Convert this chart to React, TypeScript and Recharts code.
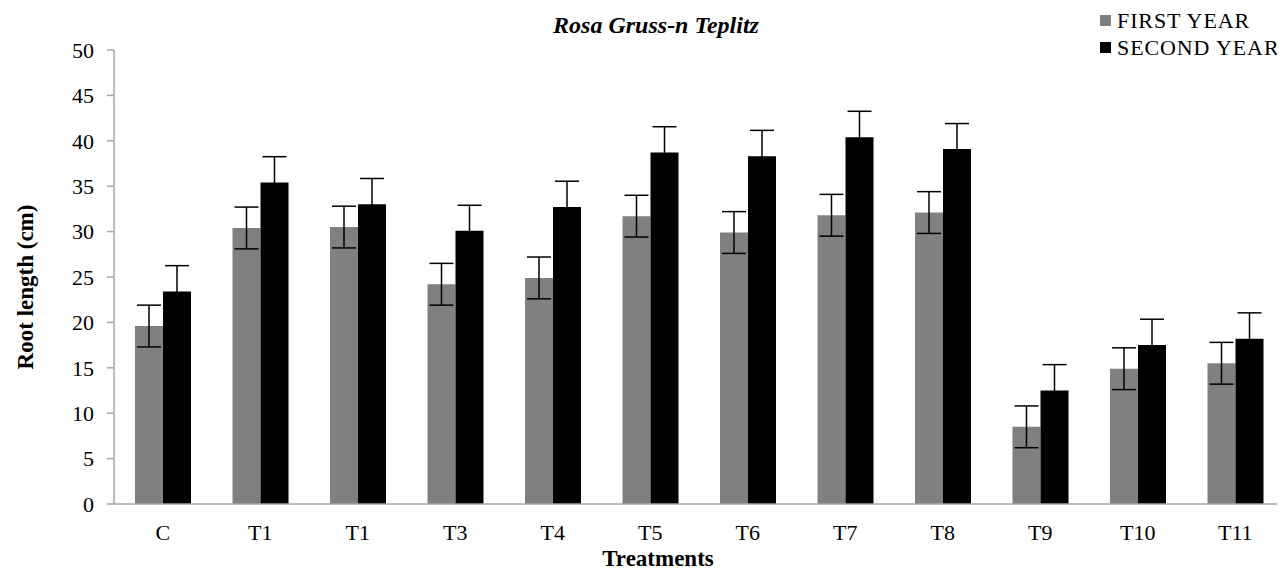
import React from "react";
import { BarChart, Bar, XAxis, YAxis, ErrorBar, Legend, Label } from "recharts";

const treatments = ["C", "T1", "T1", "T3", "T4", "T5", "T6", "T7", "T8", "T9", "T10", "T11"];
const firstYear = [19.6, 30.4, 30.5, 24.2, 24.9, 31.7, 29.9, 31.8, 32.1, 8.5, 14.9, 15.5];
const secondYear = [23.4, 35.4, 33.0, 30.1, 32.7, 38.7, 38.3, 40.4, 39.1, 12.5, 17.5, 18.2];
const firstYearErr = [2.3, 2.3, 2.3, 2.3, 2.3, 2.3, 2.3, 2.3, 2.3, 2.3, 2.3, 2.3];
const secondYearErr = [2.85, 2.85, 2.85, 2.8, 2.85, 2.85, 2.85, 2.85, 2.8, 2.85, 2.85, 2.85];
const yTicks = [0, 5, 10, 15, 20, 25, 30, 35, 40, 45, 50];

const data = treatments.map((t, i) => ({
  name: t,
  first: firstYear[i],
  firstErr: firstYearErr[i],
  second: secondYear[i],
  secondErr: secondYearErr[i],
}));

const font = '"Liberation Serif", "Times New Roman", serif';
const axisColor = "#a6a6a6";

const renderLegend = (props: any) => {
  const { payload = [] } = props;
  return (
    <div style={{ fontFamily: font, fontSize: 22, lineHeight: "27px", letterSpacing: "0.9px", color: "#000" }}>
      {payload.map((item: any) => (
        <div key={item.value} style={{ display: "flex", alignItems: "center", whiteSpace: "nowrap" }}>
          <span
            style={{
              display: "inline-block",
              width: 11,
              height: 11,
              background: item.color,
              marginRight: 6,
            }}
          />
          {item.value}
        </div>
      ))}
    </div>
  );
};

const YTitle = (props: any) => {
  const vb = props.viewBox;
  const cx = vb.x + 17;
  const cy = vb.y + vb.height / 2 + 10;
  return (
    <text
      x={cx}
      y={cy}
      transform={`rotate(-90 ${cx} ${cy})`}
      textAnchor="middle"
      dominantBaseline="central"
      fontFamily={font}
      fontSize={23}
      fontWeight="bold"
      fill="#000"
    >
      Root length (cm)
    </text>
  );
};

const XTitle = () => (
  <text x={650} y={558} textAnchor="middle" fontFamily={font} fontSize={23} fontWeight="bold" fill="#000">
    Treatments
  </text>
);

export default function App() {
  return (
    <div style={{ position: "relative", width: 1277, height: 562 }}>
      <div
        style={{
          position: "absolute",
          top: 5,
          left: 648,
          transform: "translateX(-50%)",
          whiteSpace: "nowrap",
          fontFamily: font,
          fontSize: 24,
          lineHeight: "24px",
          fontWeight: "bold",
          fontStyle: "italic",
        }}
      >
        Rosa Gruss-n Teplitz
      </div>
      <BarChart
        width={1277}
        height={562}
        data={data}
        margin={{ top: 42, right: 1, bottom: 0, left: 0 }}
        barGap={0}
        barSize={28}
      >
        <XAxis
          dataKey="name"
          height={66}
          axisLine={{ stroke: axisColor, strokeWidth: 1.5 }}
          tickLine={false}
          tickSize={0}
          tickMargin={20}
          interval={0}
          tick={{ fill: "#000", fontSize: 22, fontFamily: font }}
        >
          <Label content={<XTitle />} />
        </XAxis>
        <YAxis
          width={106}
          domain={[0, 50]}
          ticks={yTicks}
          axisLine={{ stroke: axisColor, strokeWidth: 1.5 }}
          tickLine={{ stroke: axisColor, strokeWidth: 1.5 }}
          tickSize={7}
          tickMargin={13}
          tick={{ fill: "#000", fontSize: 22, fontFamily: font }}
        >
          <Label content={<YTitle />} />
        </YAxis>
        <Legend
          layout="vertical"
          align="center"
          verticalAlign="middle"
          content={renderLegend}
          wrapperStyle={{ top: -1, left: 1092, width: 185 }}
        />
        <Bar dataKey="first" name="FIRST YEAR" fill="#808080" isAnimationActive={false}>
          <ErrorBar dataKey="firstErr" width={12} stroke="#000" strokeWidth={1.5} direction="y" />
        </Bar>
        <Bar dataKey="second" name="SECOND YEAR" fill="#000000" isAnimationActive={false}>
          <ErrorBar dataKey="secondErr" width={12} stroke="#000" strokeWidth={1.5} direction="y" />
        </Bar>
      </BarChart>
    </div>
  );
}
